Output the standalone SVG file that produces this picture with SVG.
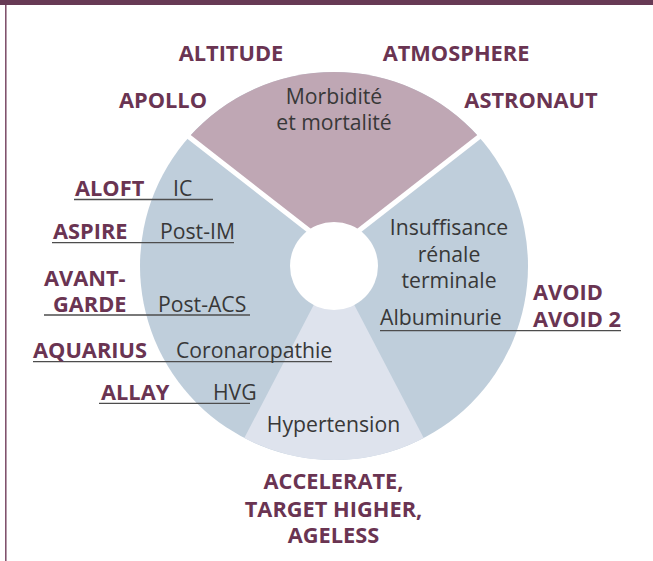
<svg xmlns="http://www.w3.org/2000/svg" width="653" height="561" viewBox="0 0 653 561">
<style>
.b{font-family:"Open Sans","Noto Sans",sans-serif;font-weight:bold;font-size:21.8px;fill:#6a3452}
.r{font-family:"Open Sans","Noto Sans",sans-serif;font-size:21.2px;fill:#383838}
.m{text-anchor:middle}
.ln{stroke:#4d4d4d;stroke-width:1.3;fill:none}
.gap{stroke:#ffffff;stroke-width:5;fill:none}
</style>
<rect x="0" y="0" width="653" height="561" fill="#ffffff"/>
<rect x="0" y="0" width="653" height="5" fill="#673a55"/>
<line x1="5.8" y1="5" x2="5.8" y2="561" stroke="#7a4a66" stroke-width="1.5"/>

<g id="sector-left">
<circle cx="334" cy="266" r="194" fill="#bfcedb"/>
</g>
<g id="sector-bottom">
<path d="M334 266 L244.3 438 A194 194 0 0 0 423.7 438 Z" fill="#dee3ed"/>
</g>
<g id="sector-top">
<path d="M334 250 L189.1 137 A194 194 0 0 1 478.9 137 Z" fill="#bfa7b4"/>
<line class="gap" x1="334" y1="250" x2="184" y2="133"/>
<line class="gap" x1="334" y1="250" x2="484" y2="133"/>
</g>
<circle id="hub" cx="334" cy="266" r="44" fill="#ffffff"/>

<g id="connectors">
<line class="ln" x1="74" y1="199.5" x2="213" y2="199.5"/>
<line class="ln" x1="52" y1="242.7" x2="234" y2="242.7" stroke="#7a7a7a" stroke-width="2"/>
<line class="ln" x1="44" y1="315" x2="250" y2="315" stroke="#666" stroke-width="1.8"/>
<line class="ln" x1="33" y1="361.7" x2="332" y2="361.7"/>
<line class="ln" x1="99" y1="403.3" x2="250" y2="403.3"/>
<line class="ln" x1="380" y1="330.7" x2="621" y2="330.7"/>
</g>

<g id="node-top">
<text class="r m" x="334" y="104">Morbidité</text>
<text class="r m" x="334" y="130">et mortalité</text>
<text class="b m" x="231" y="61">ALTITUDE</text>
<text class="b m" x="456" y="61">ATMOSPHERE</text>
<text class="b m" x="163" y="108">APOLLO</text>
<text class="b m" x="531" y="108">ASTRONAUT</text>
</g>

<g id="node-left">
<text class="b" x="75" y="196">ALOFT</text>
<text class="r" x="173" y="196">IC</text>
<text class="b" x="53" y="239.3">ASPIRE</text>
<text class="r" x="160" y="239.3">Post-IM</text>
<text class="b" x="44" y="285.7">AVANT-</text>
<text class="b" x="53" y="312.3">GARDE</text>
<text class="r" x="158" y="312.3">Post-ACS</text>
<text class="b" x="33" y="358.3">AQUARIUS</text>
<text class="r" x="176" y="358.3">Coronaropathie</text>
<text class="b" x="101" y="400">ALLAY</text>
<text class="r" x="213" y="400">HVG</text>
</g>

<g id="node-right">
<text class="r m" x="449" y="235">Insuffisance</text>
<text class="r m" x="449" y="261.7">rénale</text>
<text class="r m" x="449" y="287.7">terminale</text>
<text class="r" x="380" y="325">Albuminurie</text>
<text class="b" x="533" y="300">AVOID</text>
<text class="b" x="533" y="326.7">AVOID 2</text>
</g>

<g id="node-bottom">
<text class="r m" x="333.5" y="431.7">Hypertension</text>
<text class="b m" x="333.5" y="489">ACCELERATE,</text>
<text class="b m" x="333.5" y="516.7">TARGET HIGHER,</text>
<text class="b m" x="333.5" y="543.3">AGELESS</text>
</g>
</svg>
